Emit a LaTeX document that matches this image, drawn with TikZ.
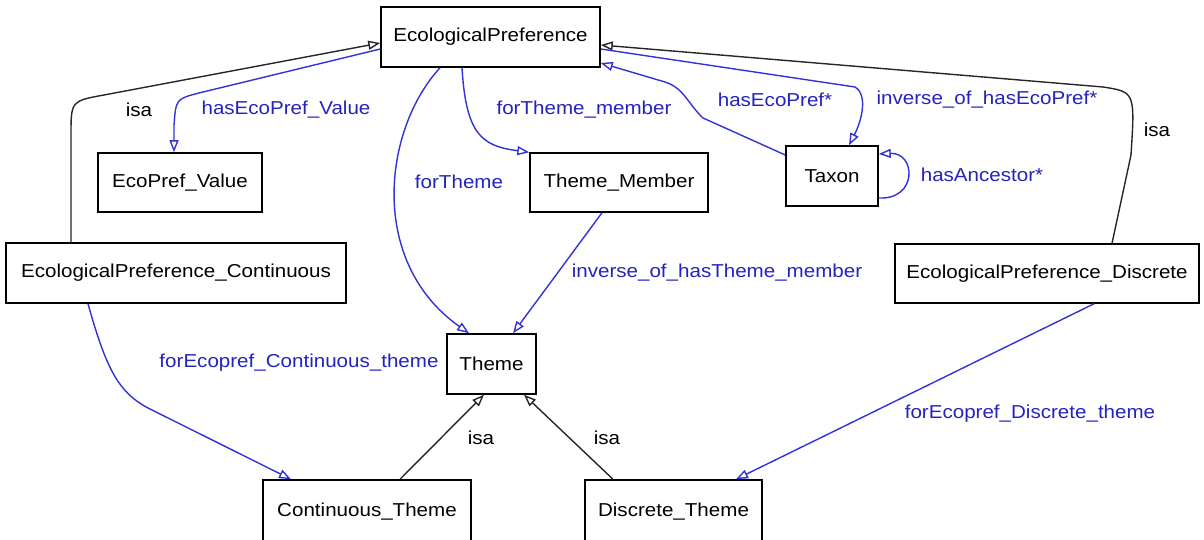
\documentclass[tikz,border=0pt]{standalone}
\usepackage{fontspec}
\setmainfont[FakeStretch=1.1]{Liberation Sans}
\usetikzlibrary{arrows.meta}
\definecolor{edgeblue}{RGB}{50,50,215}
\definecolor{labelblue}{RGB}{35,35,190}
\begin{document}
\begin{tikzpicture}[x=1pt,y=-1pt,
  classbox/.style={draw=black, line width=1.5pt, fill=white, inner sep=0pt,
    font=\fontsize{18.7}{22}\selectfont},
  rel/.style={draw=edgeblue, line width=1.4pt,
    -{Triangle[open,length=12pt,width=9pt]}},
  isarel/.style={draw=black!85, line width=1.4pt,
    -{Triangle[open,length=12pt,width=9pt]}},
  rellabel/.style={text=labelblue, inner sep=0pt, font=\fontsize{18.7}{22}\selectfont},
  isalabel/.style={text=black, inner sep=0pt, font=\fontsize{18.7}{22}\selectfont}]
\useasboundingbox (0,0) rectangle (1204,540);
\clip (0,0) rectangle (1204,540);

% classes
\node[classbox, minimum width=219pt, minimum height=60pt] (ep)    at (490.5,37)  {EcologicalPreference};
\node[classbox, minimum width=164pt, minimum height=59pt] (epv)   at (180,182.5) {EcoPref\_Value};
\node[classbox, minimum width=178pt, minimum height=59pt] (tm)    at (619,182.5) {Theme\_Member};
\node[classbox, minimum width=92pt,  minimum height=60pt] (taxon) at (832,176)   {Taxon};
\node[classbox, minimum width=340pt, minimum height=60pt] (epc)   at (176,273)   {EcologicalPreference\_Continuous};
\node[classbox, minimum width=304pt, minimum height=59pt] (epd)   at (1047,273.5){EcologicalPreference\_Discrete};
\node[classbox, minimum width=89pt,  minimum height=60pt] (theme) at (491.5,364) {Theme};
\node[classbox, minimum width=208pt, minimum height=62pt, text depth=0pt] (ct) at (367,511) {\raisebox{2pt}{Continuous\_Theme}};
\node[classbox, minimum width=177pt, minimum height=62pt, text depth=0pt] (dt) at (673.5,511) {\raisebox{2pt}{Discrete\_Theme}};

% subclass links
\draw[isarel] ([xshift=-105pt]epc.north) -- (71,135) .. controls (71,101) .. (104,95) -- ([yshift=-6pt]ep.west);
\draw[isarel] ([xshift=65pt]epd.north) -- (1131,155) .. controls (1135,92) .. (1103,87) -- ([yshift=-8pt]ep.east);
\draw[isarel] ([xshift=33pt]ct.north) -- ([xshift=-7.5pt]theme.south);
\draw[isarel] ([xshift=-60.5pt]dt.north) -- ([xshift=32.5pt]theme.south);

% properties
\draw[rel] ([yshift=-12pt]ep.west) -- (199,93) .. controls (176,99) .. (174,125) -- ([xshift=-6pt]epv.north);
\draw[rel] ([xshift=-50.5pt]ep.south) .. controls (383,130) and (368,262) .. ([xshift=-22.5pt]theme.north);
\draw[rel] ([xshift=-28.5pt]ep.south) .. controls (466,135) and (482,146) .. (tm.north west);
\draw[rel] ([yshift=21pt]taxon.west) -- (703,118) .. controls (688,104) and (684,88) .. (665,82) -- ([yshift=-26pt]ep.east);
\draw[rel] ([yshift=-12pt]ep.east) -- (855,87) .. controls (868,95) and (862,120) .. ([xshift=17pt]taxon.north);
\draw[rel] ([yshift=-22pt]taxon.east) .. controls (918,200) and (916,152) .. ([yshift=22pt]taxon.east);
\draw[rel] ([xshift=-17pt]tm.south) -- ([xshift=21.5pt]theme.north);
\draw[rel] ([xshift=-88pt]epc.south) .. controls (106,368) and (118,392) .. (148,408) -- ([xshift=-76pt]ct.north);
\draw[rel] ([xshift=47pt]epd.south) -- ([xshift=62.5pt]dt.north);

% labels
\node[isalabel] (l1) at (139,110) {isa};
\node[isalabel] (l2) at (1157,130) {isa};
\node[isalabel] (l3) at (481,438) {isa};
\node[isalabel] (l4) at (607,438) {isa};
\node[rellabel] (l5) at (286,110) {hasEcoPref\_Value};
\node[rellabel] (l6) at (459,182) {forTheme};
\node[rellabel] (l7) at (584,110) {forTheme\_member};
\node[rellabel] (l8) at (775,100) {hasEcoPref*};
\node[rellabel] (l9) at (987,100) {inverse\_of\_hasEcoPref*};
\node[rellabel] (l10) at (982,175) {hasAncestor*};
\node[rellabel] (l11) at (717,273) {inverse\_of\_hasTheme\_member};
\node[rellabel] (l12) at (299,363) {forEcopref\_Continuous\_theme};
\node[rellabel] (l13) at (1030,414) {forEcopref\_Discrete\_theme};
\end{tikzpicture}
\end{document}
